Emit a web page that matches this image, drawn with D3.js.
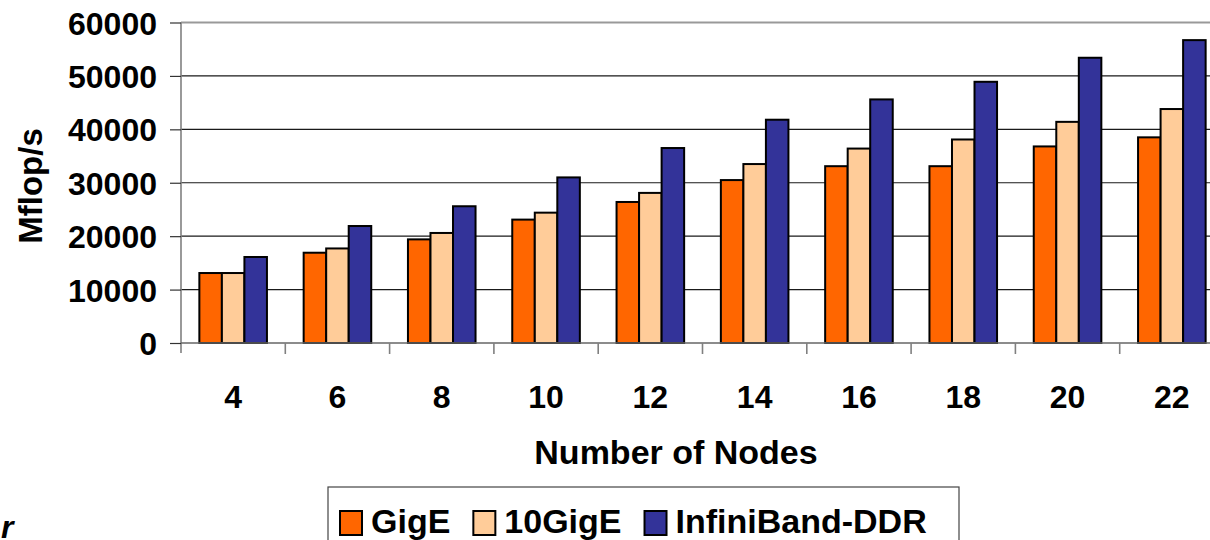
<!DOCTYPE html>
<html>
<head>
<meta charset="utf-8">
<script src="https://cdn.jsdelivr.net/npm/d3@7"></script>
<style>
  html, body { margin: 0; padding: 0; background: #fff; overflow: hidden; }
  svg { display: block; font-family: "Liberation Sans", Arial, sans-serif; font-weight: bold; }
</style>
</head>
<body>
<svg id="chart" width="1210" height="540"></svg>
<script>
const nodes = ["4", "6", "8", "10", "12", "14", "16", "18", "20", "22"];
const seriesNames = ["GigE", "10GigE", "InfiniBand-DDR"];
const gigE       = [13100, 16900, 19400, 23100, 26400, 30500, 33100, 33100, 36800, 38500];
const tenGigE    = [13100, 17700, 20600, 24400, 28100, 33500, 36400, 38100, 41400, 43800];
const infiniBand = [16100, 21900, 25600, 31000, 36500, 41800, 45600, 48900, 53400, 56700];
const yTicks = [0, 10000, 20000, 30000, 40000, 50000, 60000];
const colors = ["#FF6600", "#FFCC99", "#333399"];
const seriesValues = [gigE, tenGigE, infiniBand];

(function () {
const svg = d3.select("#chart");
const pLeft = 181, pRight = 1224, pTop = 22.5, pBottom = 343;

const x0 = d3.scaleBand().domain(nodes).range([pLeft, pRight])
  .paddingInner(0.352).paddingOuter(0.176);
const x1 = d3.scaleBand().domain(seriesNames).range([0, x0.bandwidth()]);
const y = d3.scaleLinear().domain([0, 60000]).range([pBottom, pTop]);

// gridlines
svg.append("g").selectAll("line").data(yTicks.filter(d => d > 0 && d < 60000)).join("line")
  .attr("x1", pLeft).attr("x2", pRight)
  .attr("y1", d => y(d)).attr("y2", d => y(d))
  .attr("stroke", "#1a1a1a").attr("stroke-width", 1.1);
// top border
svg.append("line").attr("x1", pLeft).attr("x2", pRight)
  .attr("y1", y(60000)).attr("y2", y(60000))
  .attr("stroke", "#999").attr("stroke-width", 2);

// bars
const groups = svg.append("g").selectAll("g").data(nodes).join("g")
  .attr("transform", d => `translate(${x0(d)},0)`);
groups.selectAll("rect")
  .data((d, i) => seriesNames.map((s, j) => ({ s, v: seriesValues[j][i], c: colors[j] })))
  .join("rect")
  .attr("x", d => x1(d.s))
  .attr("width", x1.bandwidth())
  .attr("y", d => y(d.v))
  .attr("height", d => y(0) - y(d.v))
  .attr("fill", d => d.c)
  .attr("stroke", "#000").attr("stroke-width", 2);

// y axis
const yAxis = d3.axisLeft(y).tickValues(yTicks).tickSize(11).tickPadding(13).tickFormat(d3.format("d"));
const gy = svg.append("g").attr("transform", `translate(${pLeft},0)`).call(yAxis);
gy.select(".domain").attr("stroke", "#808080").attr("stroke-width", 1.6)
  .attr("d", `M0,${pTop}V${pBottom + 10}`);
gy.selectAll(".tick line").attr("stroke", "#333").attr("stroke-width", 1.2);
gy.selectAll(".tick text").attr("font-size", 32).attr("font-weight", "bold")
  .attr("font-family", "Liberation Sans, Arial, sans-serif").attr("fill", "#000").attr("dy", "0.36em");

// x axis
const xTickScale = d3.scaleLinear().domain([0, nodes.length]).range([pLeft, pRight]);
const gx = svg.append("g").attr("transform", `translate(0,${pBottom})`);
gx.append("line").attr("x1", pLeft).attr("x2", pRight).attr("y1", 0).attr("y2", 0)
  .attr("stroke", "#666").attr("stroke-width", 1.6);
gx.selectAll("line.tk").data(d3.range(1, nodes.length + 1)).join("line")
  .attr("class", "tk")
  .attr("x1", d => xTickScale(d)).attr("x2", d => xTickScale(d))
  .attr("y1", 0).attr("y2", 11)
  .attr("stroke", "#808080").attr("stroke-width", 1.6);
gx.selectAll("text").data(nodes).join("text")
  .attr("x", d => x0(d) + x0.bandwidth() / 2)
  .attr("y", 65)
  .attr("text-anchor", "middle")
  .attr("font-size", 32)
  .text(d => d);

// axis titles
svg.append("text").attr("x", 676).attr("y", 464).attr("text-anchor", "middle")
  .attr("font-size", 34).text("Number of Nodes");
svg.append("text").attr("transform", "translate(42,186) rotate(-90)")
  .attr("text-anchor", "middle").attr("font-size", 33).text("Mflop/s");

// stray caption fragment at the bottom-left of the reference
svg.append("text").attr("x", 1).attr("y", 538).attr("font-size", 32)
  .attr("font-style", "italic").text("r");

// legend
const lg = svg.append("g");
lg.append("rect").attr("x", 328).attr("y", 487).attr("width", 631).attr("height", 70)
  .attr("fill", "#fff").attr("stroke", "#444").attr("stroke-width", 1.2);
let cx = 340;
seriesNames.forEach((s, i) => {
  lg.append("rect").attr("x", cx).attr("y", 511).attr("width", 22).attr("height", 24)
    .attr("fill", colors[i]).attr("stroke", "#000").attr("stroke-width", 2);
  const t = lg.append("text").attr("x", cx + 31).attr("y", 533).attr("font-size", 34).text(s);
  cx = cx + 31 + t.node().getComputedTextLength() + 23;
});
})();
</script>
</body>
</html>
